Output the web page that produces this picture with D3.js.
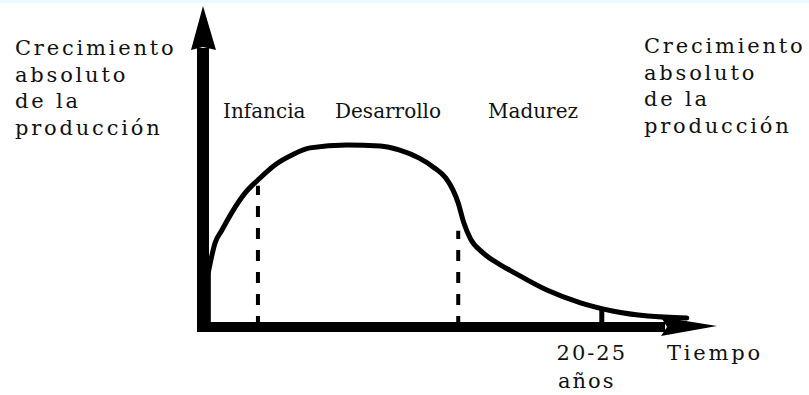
<!DOCTYPE html>
<html>
<head>
<meta charset="utf-8">
<script src="https://cdn.jsdelivr.net/npm/d3@7"></script>
<style>
  body { margin: 0; background: #fff; }
  text { font-family: "DejaVu Serif", serif; fill: #111; }
</style>
</head>
<body>
<div id="chart"></div>
<script>
// Curva del ciclo de vida (escala relativa 0-100, tiempo en años)
const years  = [0.3, 0.68, 1.07, 1.64, 2.37, 3.1, 4.06, 5.02, 6.04, 8.1, 10.0, 11.1, 12.2, 13.0, 13.7, 14.1, 14.4, 14.7, 15.1, 15.8, 16.8, 17.5, 19.4, 21.3, 23.1, 25.1, 27.3];
const growth = [17, 26.2, 30.2, 35.8, 41.7, 45.8, 50.5, 53.6, 55.8, 56.7, 56.4, 55.1, 52.6, 49.8, 46.4, 42.7, 38.6, 32.7, 27.4, 23.1, 19.3, 17.1, 11.5, 7.5, 5.0, 3.4, 2.8];

const phaseNames = ["Infancia", "Desarrollo", "Madurez"];
const boundaryYears = [3.1, 14.4];
const boundaryTop = [44, 30];
const markYear = 22.5;
const markLabel = ["20-25", "años"];
const yAxisLabel = ["Crecimiento", "absoluto", "de la", "producción"];
const xAxisLabel = "Tiempo";

const width = 809, height = 395;

const svg = d3.select("#chart")
    .append("svg")
    .attr("width", width)
    .attr("height", height);

svg.append("rect").attr("width", width).attr("height", height).attr("fill", "#fff");
svg.append("rect").attr("width", width).attr("height", 3).attr("fill", "#e8fcff");

const x = d3.scaleLinear().domain([0, 29]).range([203, 717]);
const y = d3.scaleLinear().domain([0, 100]).range([327, 6]);

// interpolación lineal de la curva para el trazo del año marcado
const curveAt = d3.scaleLinear().domain(years).range(growth);

// Ejes en forma de flecha gruesa
const x0 = x(0), y0 = y(0);
const yTop = y(100), xEnd = x(29);

svg.append("rect")
    .attr("x", x0 - 6).attr("y", yTop + 42)
    .attr("width", 12).attr("height", y0 + 5 - (yTop + 42))
    .attr("fill", "#000");
svg.append("path")
    .attr("d", `M${x0},${yTop} L${x0 + 13},${yTop + 44} L${x0},${yTop + 41} L${x0 - 12},${yTop + 44} Z`)
    .attr("fill", "#000");

svg.append("rect")
    .attr("x", x0 - 6).attr("y", y0 - 5)
    .attr("width", xEnd - 52 - (x0 - 6)).attr("height", 10)
    .attr("fill", "#000");
svg.append("path")
    .attr("d", `M${xEnd},${y0 - 1} L${xEnd - 56},${y0 - 10} L${xEnd - 50},${y0} L${xEnd - 56},${y0 + 9} Z`)
    .attr("fill", "#000");

// Líneas discontinuas entre fases
svg.append("g")
    .selectAll("line")
    .data(boundaryYears)
    .enter().append("line")
    .attr("x1", d => x(d))
    .attr("x2", d => x(d))
    .attr("y1", y0)
    .attr("y2", (d, i) => y(boundaryTop[i]))
    .attr("stroke", "#000")
    .attr("stroke-width", 4)
    .attr("stroke-dasharray", "11,11");

// Marca de 20-25 años
svg.append("line")
    .attr("x1", x(markYear)).attr("x2", x(markYear))
    .attr("y1", y0).attr("y2", y(curveAt(markYear)))
    .attr("stroke", "#000")
    .attr("stroke-width", 5);

// Curva (arranca pegada al eje vertical)
svg.append("line")
    .attr("x1", x(years[0])).attr("x2", x(years[0]))
    .attr("y1", y0).attr("y2", y(growth[0]))
    .attr("stroke", "#000")
    .attr("stroke-width", 5);

const line = d3.line()
    .x((d, i) => x(years[i]))
    .y(d => y(d))
    .curve(d3.curveMonotoneX);

svg.append("path")
    .datum(growth)
    .attr("d", line)
    .attr("fill", "none")
    .attr("stroke", "#000")
    .attr("stroke-width", 5)
    .attr("stroke-linecap", "round");

// Textos
const fs = 21;

function block(lines, left, top, spacing) {
    svg.append("g")
        .selectAll("text")
        .data(lines)
        .enter().append("text")
        .attr("x", left)
        .attr("y", (d, i) => top + i * 26.7)
        .attr("font-size", fs)
        .attr("letter-spacing", spacing)
        .text(d => d);
}

block(yAxisLabel, 15, 55, 2.8);
block(yAxisLabel, 644, 53, 2.8);

const phaseX = [223, 335, 488];
svg.append("g")
    .selectAll("text")
    .data(phaseNames)
    .enter().append("text")
    .attr("x", (d, i) => phaseX[i])
    .attr("y", 118)
    .attr("font-size", 20)
    .text(d => d);

svg.append("g")
    .selectAll("text")
    .data(markLabel)
    .enter().append("text")
    .attr("x", (d, i) => x(markYear) - (i === 0 ? 10 : 15))
    .attr("y", (d, i) => 360 + i * 28)
    .attr("text-anchor", "middle")
    .attr("font-size", fs)
    .attr("letter-spacing", 2)
    .text(d => d);

svg.append("text")
    .attr("x", 667)
    .attr("y", 360)
    .attr("font-size", fs)
    .attr("letter-spacing", 2.8)
    .text(xAxisLabel);
</script>
</body>
</html>
